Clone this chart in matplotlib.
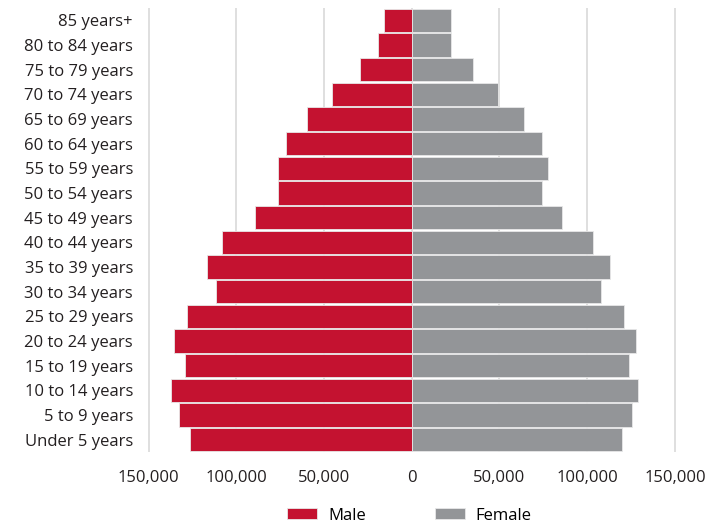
import numpy as np
import matplotlib
matplotlib.use("Agg")
from matplotlib import pyplot as plt
from matplotlib.ticker import FuncFormatter

age_groups = ["Under 5 years", "5 to 9 years", "10 to 14 years", "15 to 19 years",
              "20 to 24 years", "25 to 29 years", "30 to 34 years", "35 to 39 years",
              "40 to 44 years", "45 to 49 years", "50 to 54 years", "55 to 59 years",
              "60 to 64 years", "65 to 69 years", "70 to 74 years", "75 to 79 years",
              "80 to 84 years", "85 years+"]
male = [126500, 132600, 137000, 129000, 135300, 128300, 111400, 116900,
        108000, 89500, 76200, 76200, 71800, 59500, 45400, 29600, 19000, 15600]
female = [120000, 125400, 129000, 123700, 128000, 121000, 107900, 113200,
          103500, 85900, 74500, 77900, 74500, 63800, 49400, 34800, 22300, 22400]
ticks = [-150000, -100000, -50000, 0, 50000, 100000, 150000]

plt.rcParams['font.family'] = ['Open Sans', 'DejaVu Sans']

fig = plt.figure(figsize=(7.24, 5.29), dpi=100)
ax = fig.add_axes([0.2028, 0.1456, 0.7318, 0.8394])

y = np.arange(len(age_groups))
ax.barh(y, -np.array(male), height=0.94, color='#C41230', edgecolor='#e8e8e8',
        linewidth=0.6, label='Male', zorder=2)
ax.barh(y, female, height=0.94, color='#939598', edgecolor='#e8e8e8',
        linewidth=0.6, label='Female', zorder=2)

ax.set_xlim(-151000, 151000)
ax.set_ylim(-0.5, len(age_groups) - 0.5)
ax.set_xticks(ticks)
ax.xaxis.set_major_formatter(FuncFormatter(lambda v, p: f"{abs(int(v)):,}"))
ax.set_yticks(y)
ax.set_yticklabels(age_groups)
ax.tick_params(axis='both', length=0, labelsize=12, colors='#231f20')
ax.tick_params(axis='x', pad=13)
ax.tick_params(axis='y', pad=10)
ax.grid(axis='x', color='#d9d9d9', linewidth=1.2, zorder=0)
for s in ax.spines.values():
    s.set_visible(False)

ax.legend(loc='center', bbox_to_anchor=(0.5656, 0.0255), bbox_transform=fig.transFigure,
          ncol=2, frameon=False, fontsize=12, handlelength=1.8, handleheight=0.66,
          columnspacing=4.1, handletextpad=0.66, borderpad=0, borderaxespad=0)

fig.savefig("out.png", dpi=100)
